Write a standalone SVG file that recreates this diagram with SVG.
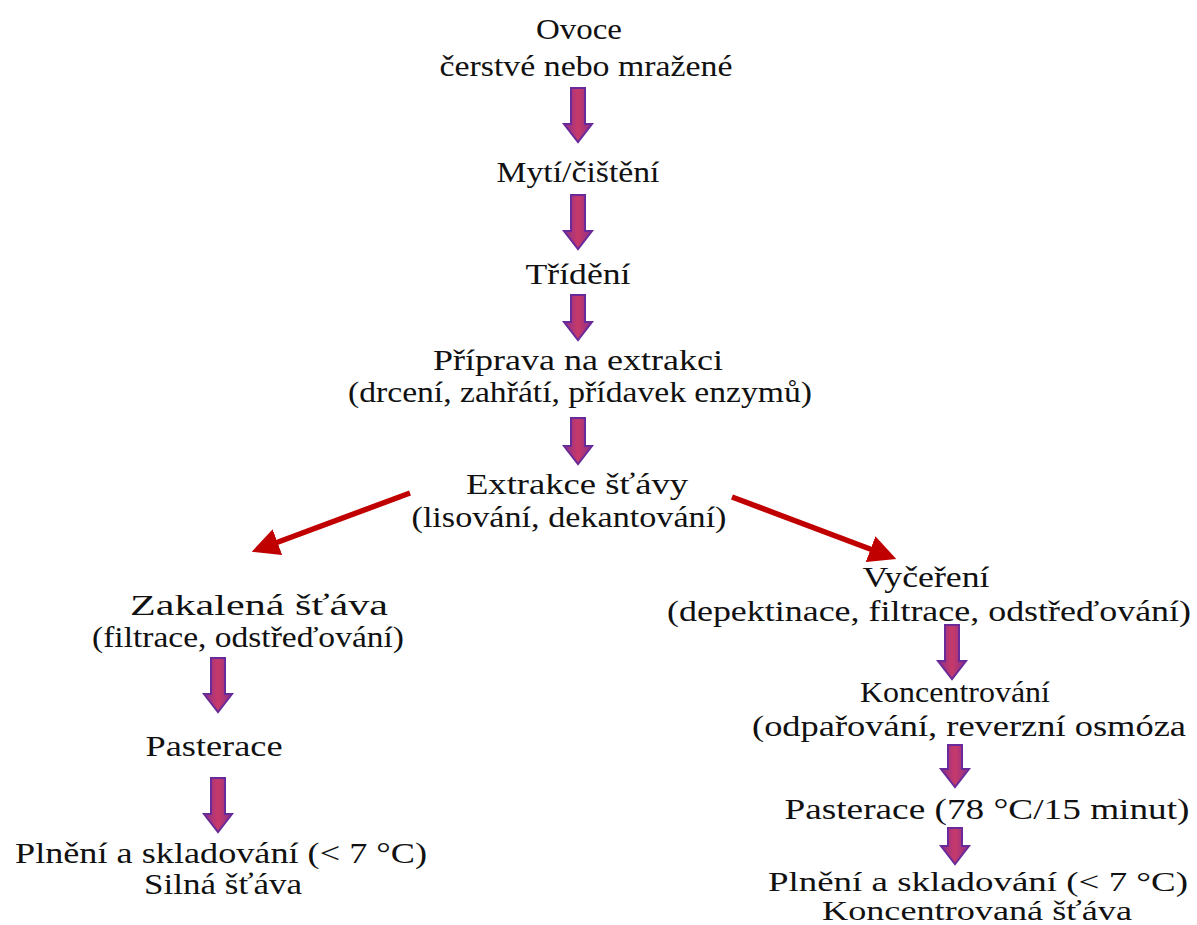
<svg xmlns="http://www.w3.org/2000/svg" width="1197" height="925" viewBox="0 0 1197 925">
<defs>
<linearGradient id="g" x1="0" y1="0" x2="1" y2="0">
<stop offset="0" stop-color="#8a2f8a"/>
<stop offset="0.5" stop-color="#c83a6a"/>
<stop offset="1" stop-color="#8a2f8a"/>
</linearGradient>
<marker id="rh" markerWidth="5" markerHeight="5" refX="3" refY="2.5" orient="auto" markerUnits="strokeWidth">
<path d="M0,0 L5,2.5 L0,5 Z" fill="#c00000"/>
</marker>
</defs>
<style>
text{font-family:"Liberation Serif","Times New Roman",serif;font-size:30px;fill:#111;text-anchor:middle}
.sm{font-size:27px}
.blk{fill:url(#g);stroke:#6a2a9a;stroke-width:2}
.red{stroke:#c00000;stroke-width:5.5;fill:none}
</style>
<g id="connectors">
<path class="blk" d="M571,88 H585 V124 H592 L578,142 L564,124 H571 Z"/>
<path class="blk" d="M571,195 H585 V231 H592 L578,249 L564,231 H571 Z"/>
<path class="blk" d="M571,295 H585 V322 H592 L578,340 L564,322 H571 Z"/>
<path class="blk" d="M571,418 H585 V446 H592 L578,464 L564,446 H571 Z"/>
<path class="blk" d="M211,658 H225 V694 H232 L218,712 L204,694 H211 Z"/>
<path class="blk" d="M211,778 H225 V814 H232 L218,832 L204,814 H211 Z"/>
<path class="blk" d="M945,625 H959 V661 H966 L952,679 L938,661 H945 Z"/>
<path class="blk" d="M948,745 H962 V769 H969 L955,787 L941,769 H948 Z"/>
<path class="blk" d="M948,828 H962 V846 H969 L955,864 L941,846 H948 Z"/>
<path class="red" d="M410,493 L262,548" marker-end="url(#rh)"/>
<path class="red" d="M732,497 L886,555" marker-end="url(#rh)"/>
</g>
<g id="n1"><text x="579" y="39" textLength="86" lengthAdjust="spacingAndGlyphs">Ovoce</text><text x="586" y="76" textLength="293" lengthAdjust="spacingAndGlyphs">čerstvé nebo mražené</text></g>
<g id="n2"><text x="578" y="182" textLength="163" lengthAdjust="spacingAndGlyphs">Mytí/čištění</text></g>
<g id="n3"><text x="578" y="284" textLength="105" lengthAdjust="spacingAndGlyphs">Třídění</text></g>
<g id="n4"><text x="578" y="370" textLength="290" lengthAdjust="spacingAndGlyphs">Příprava na extrakci</text><text x="580" y="402" textLength="464" lengthAdjust="spacingAndGlyphs">(drcení, zahřátí, přídavek enzymů)</text></g>
<g id="n5"><text x="577" y="494" textLength="222" lengthAdjust="spacingAndGlyphs">Extrakce šťávy</text><text x="569" y="527" textLength="315" lengthAdjust="spacingAndGlyphs">(lisování, dekantování)</text></g>
<g id="n6"><text x="259" y="615" textLength="258" lengthAdjust="spacingAndGlyphs">Zakalená šťáva</text><text x="248" y="647" textLength="312" lengthAdjust="spacingAndGlyphs">(filtrace, odstřeďování)</text></g>
<g id="n7"><text x="214" y="756" textLength="137" lengthAdjust="spacingAndGlyphs">Pasterace</text></g>
<g id="n8"><text x="221" y="863" textLength="412" lengthAdjust="spacingAndGlyphs">Plnění a skladování (&lt; 7 °C)</text><text x="223" y="894" textLength="158" lengthAdjust="spacingAndGlyphs">Silná šťáva</text></g>
<g id="n9"><text x="926" y="587" textLength="127" lengthAdjust="spacingAndGlyphs">Vyčeření</text><text x="929" y="621" textLength="524" lengthAdjust="spacingAndGlyphs">(depektinace, filtrace, odstřeďování)</text></g>
<g id="n10"><text x="955" y="702" textLength="190" lengthAdjust="spacingAndGlyphs">Koncentrování</text><text x="969" y="736" textLength="434" lengthAdjust="spacingAndGlyphs">(odpařování, reverzní osmóza</text></g>
<g id="n11"><text x="987" y="819" textLength="405" lengthAdjust="spacingAndGlyphs">Pasterace (78 °C/15 minut)</text></g>
<g id="n12"><text class="sm" x="978" y="891" textLength="420" lengthAdjust="spacingAndGlyphs">Plnění a skladování (&lt; 7 °C)</text><text class="sm" x="977" y="920" textLength="310" lengthAdjust="spacingAndGlyphs">Koncentrovaná šťáva</text></g>
</svg>
